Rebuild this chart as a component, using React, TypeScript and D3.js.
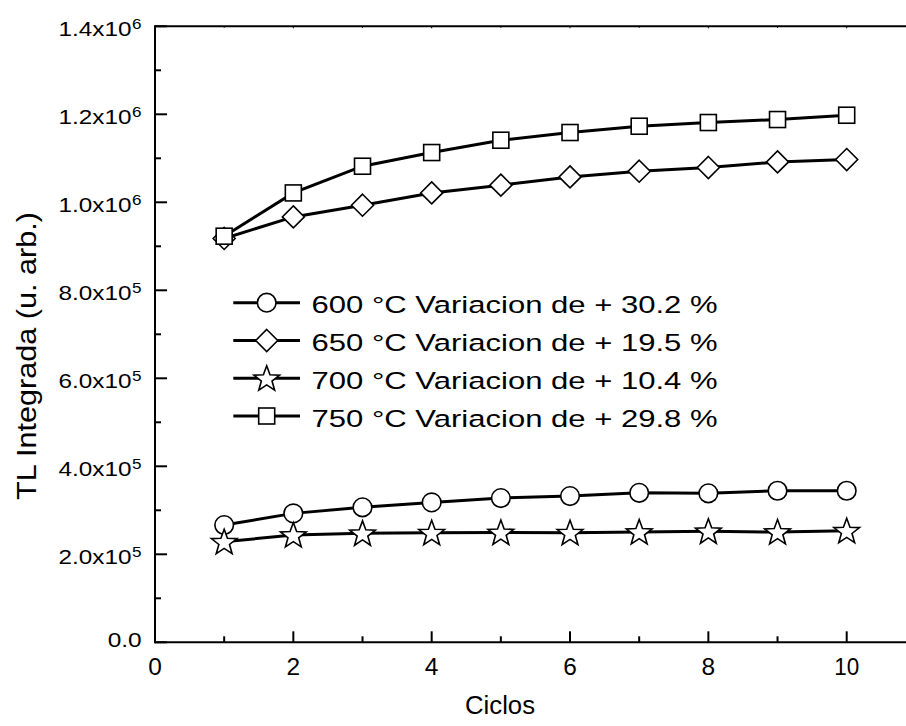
import React from "react";
import * as d3 from "d3";

const ciclos = [1, 2, 3, 4, 5, 6, 7, 8, 9, 10];
const s600 = [266500, 293000, 306700, 318000, 327800, 332300, 339800, 338500, 344400, 344400];
const s650 = [917800, 966800, 993400, 1021300, 1038900, 1057700, 1070600, 1079100, 1091800, 1097200];
const s700 = [228500, 243800, 247600, 249000, 249500, 249000, 250600, 252200, 250600, 253500];
const s750 = [923000, 1021300, 1082000, 1113100, 1141100, 1158600, 1172900, 1181300, 1188100, 1197900];
const legendLabels = [
  "600 °C Variacion de + 30.2 %",
  "650 °C Variacion de + 19.5 %",
  "700 °C Variacion de + 10.4 %",
  "750 °C Variacion de + 29.8 %",
];
const markerTypes = ["circle", "diamond", "star", "square"];
const xTicks = [0, 2, 4, 6, 8, 10];
const yTickMant = ["0.0", "2.0", "4.0", "6.0", "8.0", "1.0", "1.2", "1.4"];
const yTickExp = ["", "5", "5", "5", "5", "6", "6", "6"];
const yTicks = [0, 200000, 400000, 600000, 800000, 1000000, 1200000, 1400000];

const W = 906, H = 726;
const x = d3.scaleLinear().domain([0, 11]).range([155, 155 + 11 * 69.17]);
const y = d3.scaleLinear().domain([0, 1400000]).range([642.3, 26.3]);
const FONT = "'Liberation Sans', Arial, sans-serif";

function starPath(R: number, r: number) {
  const pts: string[] = [];
  for (let i = 0; i < 10; i++) {
    const a = -Math.PI / 2 + (i * Math.PI) / 5;
    const rad = i % 2 === 0 ? R : r;
    pts.push(`${(rad * Math.cos(a)).toFixed(2)},${(rad * Math.sin(a)).toFixed(2)}`);
  }
  return "M" + pts.join("L") + "Z";
}

function Marker({ type, cx, cy }: { type: string; cx: number; cy: number }) {
  const common = { fill: "#fff", stroke: "#000", strokeWidth: 1.6 };
  if (type === "circle") return <circle cx={cx} cy={cy} r={9.3} {...common} />;
  if (type === "square") return <rect x={cx - 8} y={cy - 8} width={16} height={16} {...common} />;
  if (type === "diamond")
    return <path d={`M${cx},${cy - 11}L${cx + 11},${cy}L${cx},${cy + 11}L${cx - 11},${cy}Z`} {...common} />;
  return <path transform={`translate(${cx},${cy + 1})`} d={starPath(13.5, 5.6)} {...common} />;
}

export default function App() {
  const series = [s600, s650, s700, s750];
  const line = d3
    .line<number>()
    .x((_, i) => x(ciclos[i]))
    .y((d) => y(d));
  const xMinor = d3.range(1, 11, 2);
  const yMinor = d3.range(100000, 1400000, 200000);
  const legendY = [302.7, 340.5, 378.3, 416];
  return (
    <svg
      width={W}
      height={H}
      style={{ position: "absolute", left: 0, top: 0, background: "#fff" }}
      fontFamily={FONT}
    >
      <rect width={W} height={H} fill="#fff" />
      {/* axes */}
      <line x1={155} x2={W + 5} y1={y(0)} y2={y(0)} stroke="#000" strokeWidth={2} />
      <line x1={155} x2={W + 5} y1={y(1400000)} y2={y(1400000)} stroke="#000" strokeWidth={2} />
      <line x1={155} x2={155} y1={y(0) + 1} y2={y(1400000) - 1} stroke="#000" strokeWidth={2} />
      {xTicks.map((t) => (
        <g key={"xt" + t}>
          <line x1={x(t)} x2={x(t)} y1={y(0)} y2={y(0) - 11} stroke="#000" strokeWidth={2} />
          <line x1={x(t)} x2={x(t)} y1={y(1400000)} y2={y(1400000) + 2} stroke="#000" strokeWidth={1} />
          <text
            x={x(t) - (t >= 10 ? 12.5 : 6.8)}
            y={675}
            fontSize={23}
            textLength={t >= 10 ? 25 : 13.6}
            lengthAdjust="spacingAndGlyphs"
          >
            {t}
          </text>
        </g>
      ))}
      {xMinor.map((t) => (
        <g key={"xm" + t}>
          <line x1={x(t)} x2={x(t)} y1={y(0)} y2={y(0) - 6} stroke="#000" strokeWidth={2} />
          <line x1={x(t)} x2={x(t)} y1={y(1400000)} y2={y(1400000) + 1.5} stroke="#000" strokeWidth={1} />
        </g>
      ))}
      {yTicks.map((t, i) => (
        <g key={"yt" + t}>
          <line x1={155} x2={167} y1={y(t)} y2={y(t)} stroke="#000" strokeWidth={2} />
          {yTickExp[i] ? (
            <>
              <text
                x={131.5 - 73}
                y={y(t) + 9.5}
                fontSize={21}
                textLength={73}
                lengthAdjust="spacingAndGlyphs"
              >
                {yTickMant[i] + "x10"}
              </text>
              <text x={132} y={y(t) + 2.5} fontSize={15} textLength={9.5} lengthAdjust="spacingAndGlyphs">
                {yTickExp[i]}
              </text>
            </>
          ) : (
            <text x={141.7 - 34} y={647} fontSize={21} textLength={34} lengthAdjust="spacingAndGlyphs">
              {yTickMant[i]}
            </text>
          )}
        </g>
      ))}
      {yMinor.map((t) => (
        <line key={"ym" + t} x1={155} x2={161} y1={y(t)} y2={y(t)} stroke="#000" strokeWidth={2} />
      ))}
      {/* axis titles */}
      <text x={500 - 35} y={714} fontSize={25} textLength={70} lengthAdjust="spacingAndGlyphs">
        Ciclos
      </text>
      <text
        transform={`translate(35.5,${356 + 144}) rotate(-90)`}
        fontSize={27}
        textLength={288}
        lengthAdjust="spacingAndGlyphs"
      >
        TL Integrada (u. arb.)
      </text>
      {/* series */}
      {series.map((s, si) => (
        <g key={"s" + si}>
          <path d={line(s) || ""} fill="none" stroke="#000" strokeWidth={3} />
          {s.map((v, i) => (
            <Marker key={i} type={markerTypes[si]} cx={x(ciclos[i])} cy={y(v)} />
          ))}
        </g>
      ))}
      {/* legend */}
      {legendLabels.map((lab, i) => (
        <g key={"lg" + i}>
          <line x1={233.3} x2={300} y1={legendY[i]} y2={legendY[i]} stroke="#000" strokeWidth={3} />
          <Marker type={markerTypes[i]} cx={266.7} cy={legendY[i]} />
          <text
            x={311.5}
            y={legendY[i] + 10.6}
            fontSize={24.5}
            textLength={406}
            lengthAdjust="spacingAndGlyphs"
          >
            {lab}
          </text>
        </g>
      ))}
    </svg>
  );
}
